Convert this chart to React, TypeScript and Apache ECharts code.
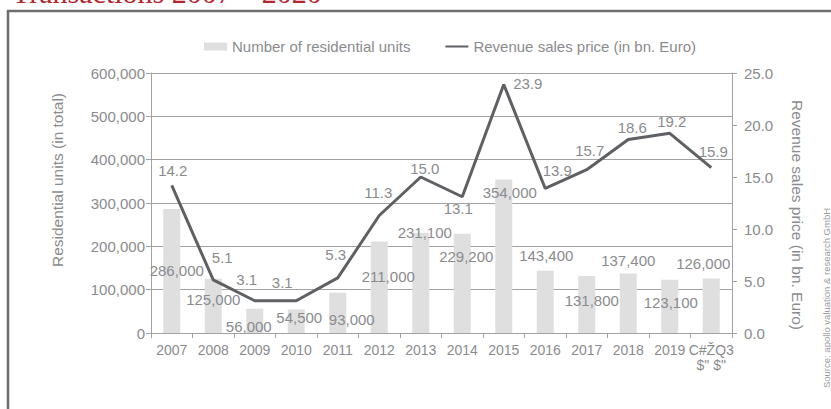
import React, { useEffect, useRef } from "react";
import * as echarts from "echarts";

const categories = [
  "2007", "2008", "2009", "2010", "2011", "2012", "2013",
  "2014", "2015", "2016", "2017", "2018", "2019", "C#ŽQ3\n$\" $\"",
];
const residentialUnits = [
  286000, 125000, 56000, 54500, 93000, 211000, 231100,
  229200, 354000, 143400, 131800, 137400, 123100, 126000,
];
const revenueBn = [
  14.2, 5.1, 3.1, 3.1, 5.3, 11.3, 15.0,
  13.1, 23.9, 13.9, 15.7, 18.6, 19.2, 15.9,
];
const unitsTicks = { min: 0, max: 600000, interval: 100000 };
const revenueTicks = { min: 0, max: 25, interval: 5 };

const unitsLabelOffsets = [
  [5, 61], [0, 21], [-6, 18], [3, 8], [14, 27], [9, 35], [4, 0],
  [4, 23], [6, 13], [1, -15], [5, 25], [0, -13], [1, 23], [-8, -15],
];
const revenueLabelOffsets = [
  [1, -15], [9, -22], [-8, -21], [-14, -18], [-2, -23], [-1, -23], [4, -9],
  [-4, 12], [24, -1], [12, -18], [3, -19], [4, -12], [2, -12], [2, -16],
];

const unitsName = "Number of residential units";
const revenueName = "Revenue sales price (in bn. Euro)";

const FONT = '"Liberation Sans", Arial, sans-serif';
const TEXT = "#8a8b8e";
const AXIS = "#a2a2a2";

export default function App() {
  const ref = useRef<HTMLDivElement>(null);
  useEffect(() => {
    if (!ref.current) return;
    const chart = echarts.init(ref.current, undefined, { renderer: "svg" });
    const fmtInt = (v: number) => v.toLocaleString("en-US");
    chart.setOption({
      animation: false,
      backgroundColor: "#ffffff",
      textStyle: { fontFamily: FONT },
      grid: { left: 151, right: 99, top: 73, bottom: 76 },
      legend: {
        left: 199,
        top: 34,
        itemWidth: 23,
        itemHeight: 8,
        itemGap: 35,
        textStyle: { color: TEXT, fontSize: 15, fontFamily: FONT },
        data: [
          { name: unitsName, icon: "rect" },
          {
            name: revenueName,
            icon: "path://M0,0L1,0L1,0.01L0,0.01ZM0,2.8L25,2.8L25,5.2L0,5.2ZM0,7.99L1,7.99L1,8L0,8Z",
          },
        ],
      },
      xAxis: {
        type: "category",
        data: categories,
        axisLine: { show: true, lineStyle: { color: AXIS, width: 1 } },
        axisTick: { show: true, length: 5, lineStyle: { color: AXIS } },
        axisLabel: {
          interval: 0,
          color: TEXT,
          fontSize: 14,
          fontFamily: FONT,
          margin: 9,
          lineHeight: 15,
        },
      },
      yAxis: [
        {
          type: "value",
          ...unitsTicks,
          axisLine: { show: true, lineStyle: { color: AXIS } },
          axisTick: { show: true, length: 5, lineStyle: { color: AXIS } },
          axisLabel: {
            color: TEXT,
            fontSize: 15,
            fontFamily: FONT,
            margin: 6,
            formatter: (v: number) => fmtInt(v),
          },
          splitLine: { show: true, lineStyle: { color: AXIS, width: 1 } },
        },
        {
          type: "value",
          position: "right",
          ...revenueTicks,
          axisLine: { show: true, lineStyle: { color: AXIS } },
          axisTick: { show: true, length: 5, lineStyle: { color: AXIS } },
          axisLabel: {
            color: TEXT,
            fontSize: 15,
            fontFamily: FONT,
            margin: 12,
            formatter: (v: number) => v.toFixed(1),
          },
          splitLine: { show: false },
        },
      ],
      series: [
        {
          name: unitsName,
          type: "bar",
          barWidth: 17,
          itemStyle: { color: "#dfdfdf" },
          data: residentialUnits.map((v, i) => ({
            value: v,
            label: { offset: unitsLabelOffsets[i] },
          })),
          label: {
            show: true,
            position: "top",
            distance: 0,
            align: "center",
            verticalAlign: "middle",
            color: TEXT,
            fontSize: 15,
            fontFamily: FONT,
            formatter: (p: any) => fmtInt(p.value),
          },
          z: 1,
        },
        {
          name: revenueName,
          type: "line",
          yAxisIndex: 1,
          symbol: "circle",
          symbolSize: 0,
          showSymbol: true,
          lineStyle: { color: "#5e6063", width: 3 },
          itemStyle: { color: "#5e6063" },
          data: revenueBn.map((v, i) => ({
            value: v,
            label: { offset: revenueLabelOffsets[i] },
          })),
          label: {
            show: true,
            position: "top",
            distance: 0,
            align: "center",
            verticalAlign: "middle",
            color: TEXT,
            fontSize: 15,
            fontFamily: FONT,
            formatter: (p: any) => Number(p.value).toFixed(1),
          },
          z: 3,
        },
      ],
      graphic: [
        {
          type: "text",
          x: 12,
          y: -8,
          style: {
            text: "Transactions 2007 – 2020",
            font: '30px "Liberation Serif", serif',
            fill: "#b3262e",
            verticalAlign: "middle",
            align: "left",
          },
        },
        {
          type: "line",
          shape: { x1: 7, y1: 11, x2: 831, y2: 11 },
          style: { stroke: "#6d6e71", lineWidth: 2.5 },
        },
        {
          type: "line",
          shape: { x1: 8, y1: 10, x2: 8, y2: 409 },
          style: { stroke: "#6d6e71", lineWidth: 2.5 },
        },
        {
          type: "text",
          x: 57,
          y: 180,
          rotation: Math.PI / 2,
          style: {
            text: "Residential units (in total)",
            font: `15.5px ${FONT}`,
            fill: TEXT,
            align: "center",
            verticalAlign: "middle",
          },
        },
        {
          type: "text",
          x: 797,
          y: 215,
          rotation: -Math.PI / 2,
          style: {
            text: "Revenue sales price (in bn. Euro)",
            font: `15.5px ${FONT}`,
            fill: TEXT,
            align: "center",
            verticalAlign: "middle",
          },
        },
        {
          type: "text",
          x: 826,
          y: 298,
          rotation: Math.PI / 2,
          style: {
            text: "Source: apollo valuation & research GmbH",
            font: `9.5px ${FONT}`,
            fill: "#9a9a9a",
            align: "center",
            verticalAlign: "middle",
          },
        },
      ],
    });
    return () => chart.dispose();
  }, []);
  return (
    <div
      ref={ref}
      style={{ position: "fixed", left: 0, top: 0, width: 831, height: 409 }}
    />
  );
}
